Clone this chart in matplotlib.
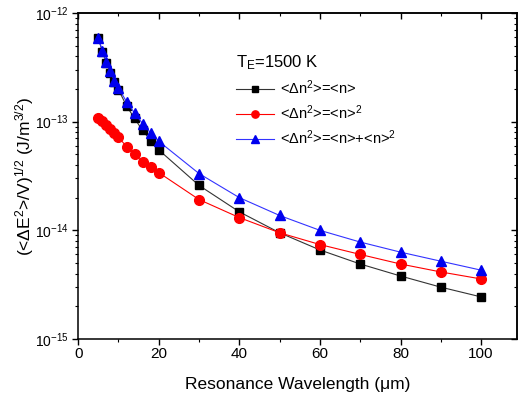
import matplotlib
matplotlib.use('Agg')
import matplotlib.pyplot as plt
from matplotlib.ticker import LogLocator, MultipleLocator, NullFormatter

plt.rcParams['font.family'] = ['Liberation Sans', 'DejaVu Sans']
plt.rcParams['mathtext.fontset'] = 'custom'
plt.rcParams['mathtext.rm'] = 'Liberation Sans'
plt.rcParams['mathtext.it'] = 'Liberation Sans:italic'
plt.rcParams['mathtext.default'] = 'regular'

# longitud de onda de resonancia (um)
wavelength = [5, 6, 7, 8, 9, 10, 12, 14, 16, 18, 20, 30, 40, 50, 60, 70, 80, 90, 100]

# <dn^2> = <n>
fluct_n = [5.9e-13, 4.4e-13, 3.5e-13, 2.82e-13, 2.33e-13, 1.97e-13, 1.40e-13, 1.07e-13,
           8.3e-14, 6.7e-14, 5.5e-14, 2.59e-14, 1.48e-14, 9.5e-15, 6.6e-15, 4.9e-15,
           3.8e-15, 3.0e-15, 2.44e-15]
# <dn^2> = <n>^2
fluct_n2 = [1.09e-13, 1.02e-13, 9.4e-14, 8.6e-14, 7.9e-14, 7.2e-14, 5.9e-14, 5.0e-14,
            4.27e-14, 3.8e-14, 3.4e-14, 1.92e-14, 1.31e-14, 9.5e-15, 7.4e-15, 6.0e-15,
            4.9e-15, 4.14e-15, 3.57e-15]
# <dn^2> = <n> + <n>^2
fluct_sum = [5.86e-13, 4.51e-13, 3.57e-13, 2.90e-13, 2.38e-13, 2.04e-13, 1.53e-13, 1.20e-13,
             9.6e-14, 7.87e-14, 6.6e-14, 3.33e-14, 2.0e-14, 1.37e-14, 1.0e-14, 7.8e-15,
             6.3e-15, 5.2e-15, 4.3e-15]

labels = ['<Δn$^2$>=<n>', '<Δn$^2$>=<n>$^2$', '<Δn$^2$>=<n>+<n>$^2$']

fig = plt.figure(figsize=(5.21, 4.0), dpi=100)
ax = fig.add_axes([0.150, 0.1525, 0.843, 0.815])

ax.plot(wavelength, fluct_n, color='#333333', lw=0.8, marker='s', ms=6,
        mfc='black', mec='black', label=labels[0])
ax.plot(wavelength, fluct_n2, color='red', lw=0.8, marker='o', ms=7,
        mfc='red', mec='red', label=labels[1])
ax.plot(wavelength, fluct_sum, color='#3333ff', lw=0.8, marker='^', ms=7,
        mfc='#0000ee', mec='#0000ee', label=labels[2])

ax.set_yscale('log')
ax.set_xlim(0, 109)
ax.set_ylim(1e-15, 1e-12)

ax.xaxis.set_major_locator(MultipleLocator(20))
ax.xaxis.set_minor_locator(MultipleLocator(10))
ax.yaxis.set_major_locator(LogLocator(base=10, numticks=10))
ax.yaxis.set_minor_locator(LogLocator(base=10, subs=range(2, 10), numticks=10))
ax.yaxis.set_minor_formatter(NullFormatter())

ax.tick_params(axis='x', which='both', direction='out', labelsize=11, pad=2)
ax.tick_params(axis='y', which='both', direction='out', labelsize=10, pad=3)
ax.tick_params(which='major', length=4, width=1)
ax.tick_params(which='minor', length=2.5, width=0.8)

# ejes espejo arriba y a la derecha
top = ax.secondary_xaxis('top')
top.xaxis.set_major_locator(MultipleLocator(20))
top.xaxis.set_minor_locator(MultipleLocator(10))
top.tick_params(which='both', direction='in', labeltop=False)
top.tick_params(which='major', length=4, width=1)
top.tick_params(which='minor', length=2.5, width=0.8)

right = ax.secondary_yaxis('right')
right.yaxis.set_major_locator(LogLocator(base=10, numticks=10))
right.yaxis.set_minor_locator(LogLocator(base=10, subs=range(2, 10), numticks=10))
right.tick_params(which='both', direction='in', labelright=False)
right.tick_params(which='major', length=4, width=1)
right.tick_params(which='minor', length=2.5, width=0.8)

for s in ax.spines.values():
    s.set_linewidth(1.1)
top.spines['top'].set_linewidth(1.1)
right.spines['right'].set_linewidth(1.1)

ax.set_xlabel('Resonance Wavelength (μm)', fontsize=12.5, labelpad=11.5)
ax.set_ylabel('(<ΔE$^2$>/V)$^{1/2}$ (J/m$^{3/2}$)', fontsize=12.5, labelpad=-1)

leg = ax.legend(title='T$_E$=1500 K', loc='upper left', bbox_to_anchor=(0.33, 0.918),
                frameon=False, fontsize=10.5, title_fontsize=12, handlelength=2.6,
                handletextpad=0.4, labelspacing=0.45, alignment='left', markerscale=0.75)

fig.savefig('out.png', dpi=100)
